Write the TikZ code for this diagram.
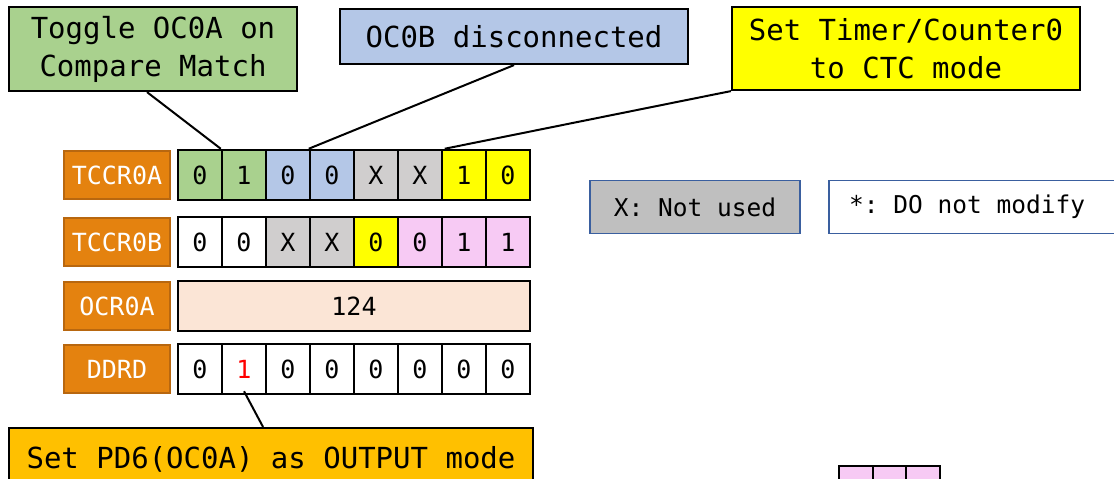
\documentclass[tikz,border=0pt]{standalone}
\usepackage{fontspec}
\setmonofont{DejaVu Sans Mono}
\usetikzlibrary{calc}
\definecolor{cgreen}{HTML}{A9D18E}
\definecolor{cblue}{HTML}{B4C7E7}
\definecolor{cyellow}{HTML}{FFFF00}
\definecolor{cgray}{HTML}{D0CECE}
\definecolor{cpink}{HTML}{F7CAF4}
\definecolor{cpeach}{HTML}{FBE5D6}
\definecolor{corange}{HTML}{E4820F}
\definecolor{corangedark}{HTML}{B8670F}
\definecolor{cgold}{HTML}{FFC000}
\definecolor{clegendgray}{HTML}{BFBFBF}
\definecolor{clegendblue}{HTML}{3A5F9F}
\begin{document}
\begin{tikzpicture}[x=1pt,y=-1pt,
  note/.style={draw=black, line width=2.2pt, inner sep=0pt, align=center,
    font=\ttfamily\fontsize{29}{38}\selectfont},
  cell/.style={draw=black, line width=2.5pt, minimum width=44pt, minimum height=50pt,
    inner sep=0pt, font=\ttfamily\fontsize{25}{30}\selectfont},
  smallcell/.style={draw=black, line width=2pt, minimum width=33.5pt, minimum height=40pt,
    inner sep=0pt, fill=cpink},
  reglabel/.style={fill=corange, draw=corangedark, line width=2.5pt, minimum width=106pt,
    minimum height=48pt, inner sep=0pt, text=white, font=\ttfamily\fontsize{25}{30}\selectfont},
  legend/.style={draw=clegendblue, line width=1.8pt, minimum height=53pt, inner sep=0pt,
    font=\ttfamily\fontsize{24.5}{30}\selectfont},
  legendtext/.style={inner sep=0pt, anchor=west, font=\ttfamily\fontsize{24.5}{30}\selectfont},
  conn/.style={draw=black, line width=2pt}]
\useasboundingbox (0,0) rectangle (1114,479);

% notes
\node[note, fill=cgreen, minimum width=288pt, minimum height=84pt] (green) at (153,49)
  {Toggle OC0A on\\Compare Match};
\node[note, fill=cblue, minimum width=348pt, minimum height=55pt] (blue) at (514,36.5)
  {OC0B disconnected};
\node[note, fill=cyellow, minimum width=348pt, minimum height=83pt] (yellow) at (906,48.5)
  {Set Timer/Counter0\\to CTC mode};
\node[note, fill=cgold, minimum width=524pt, minimum height=62pt] (setpd) at (271,459)
  {Set PD6(OC0A) as OUTPUT mode};

% register labels
\node[reglabel] (lA) at (117,175) {TCCR0A};
\node[reglabel] (lB) at (117,242) {TCCR0B};
\node[reglabel] (lO) at (117,306) {OCR0A};
\node[reglabel] (lD) at (117,369) {DDRD};

% TCCR0A
\foreach \v/\c [count=\i from 0] in {0/cgreen,1/cgreen,0/cblue,0/cblue,X/cgray,X/cgray,1/cyellow,0/cyellow}
  \node[cell, fill=\c] (a\i) at (200+44*\i,175) {\v};
% TCCR0B
\foreach \v/\c [count=\i from 0] in {0/white,0/white,X/cgray,X/cgray,0/cyellow,0/cpink,1/cpink,1/cpink}
  \node[cell, fill=\c] (b\i) at (200+44*\i,242) {\v};
% OCR0A
\node[cell, fill=cpeach, minimum width=352pt] (ocr) at (354,306) {124};
% DDRD
\foreach \v/\c [count=\i from 0] in {0/black,1/red,0/black,0/black,0/black,0/black,0/black,0/black}
  \node[cell, fill=white, text=\c] (d\i) at (200+44*\i,369) {\v};

% legends
\node[legend, fill=clegendgray, minimum width=210pt] (lx) at (695,207) {X: Not used};
\node[legend, fill=white, anchor=west, minimum width=310pt] (ls) at (828,207) {};
\node[legendtext] (lstext) at ([xshift=21pt]ls.west) {*: DO not modify};

% partial pink cells at bottom
\foreach \i in {0,1,2}
  \node[smallcell] (p\i) at (856+33.5*\i,486) {};

% connectors
\draw[conn] ([xshift=-6pt]green.south) -- (a1.north west);
\draw[conn] (blue.south) -- (a3.north west);
\draw[conn] (yellow.south west) -- ([xshift=4pt]a6.north west);
\draw[conn] ([yshift=4pt]d1.south) -- ([xshift=-8pt]setpd.north);
\end{tikzpicture}
\end{document}
